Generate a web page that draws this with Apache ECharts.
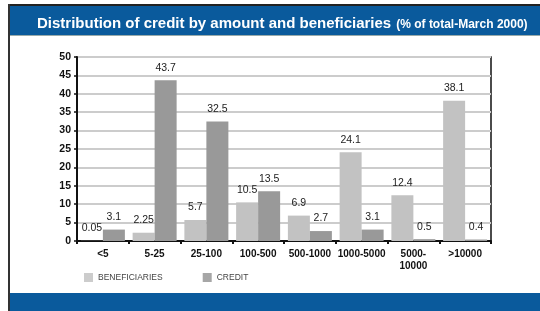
<!DOCTYPE html>
<html>
<head>
<meta charset="utf-8">
<script src="https://cdn.jsdelivr.net/npm/echarts@6/dist/echarts.min.js"></script>
<style>
html, body { margin: 0; padding: 0; background: #fff; }
#chart { width: 540px; height: 311px; }
</style>
</head>
<body>
<div id="chart"></div>
<script>
var categories = ['<5', '5-25', '25-100', '100-500', '500-1000', '1000-5000', '5000-\n10000', '>10000'];
var beneficiaries = [0.05, 2.25, 5.7, 10.5, 6.9, 24.1, 12.4, 38.1];
var credit = [3.1, 43.7, 32.5, 13.5, 2.7, 3.1, 0.5, 0.4];
var yTicks = [0, 50, 5]; // min, max, step

var FONT = "'Liberation Sans Narrow', 'Arial Narrow', 'Liberation Sans', sans-serif";
var BLUE = '#0a5a9c';

var myChart = echarts.init(document.getElementById('chart'));
var option = {
    backgroundColor: '#fff',
    animation: false,
    title: {
        text: '{a|Distribution of credit by amount and beneficiaries} {b|(% of total-March 2000)}',
        left: 32,
        top: 10,
        textStyle: {
            rich: {
                a: { fontFamily: FONT, fontWeight: 'bold', fontSize: 15, color: '#fff' },
                b: { fontFamily: FONT, fontWeight: 'bold', fontSize: 12, color: '#fff', padding: [2, 0, 0, 0] }
            }
        }
    },
    graphic: [
        { type: 'rect', z: -1, shape: { x: 8, y: 4, width: 532, height: 2 }, style: { fill: '#222' } },
        { type: 'rect', z: -1, shape: { x: 8, y: 4, width: 2, height: 307 }, style: { fill: '#333' } },
        { type: 'rect', z: -1, shape: { x: 10, y: 6, width: 530, height: 29 }, style: { fill: BLUE } },
        { type: 'rect', z: -1, shape: { x: 10, y: 35, width: 530, height: 1 }, style: { fill: '#9aa' } },
        { type: 'rect', z: -1, shape: { x: 10, y: 293, width: 530, height: 18 }, style: { fill: BLUE } }
    ],
    legend: {
        left: 79,
        top: 268,
        icon: 'rect',
        itemWidth: 9,
        itemHeight: 9,
        itemGap: 40,
        textStyle: { fontFamily: FONT, fontSize: 8.5, color: '#444' },
        data: [
            { name: 'BENEFICIARIES', itemStyle: { color: '#cccccc' } },
            { name: 'CREDIT', itemStyle: { color: '#a6a6a6' } }
        ]
    },
    grid: {
        left: 77,
        top: 57,
        right: 49,
        bottom: 70,
        show: true,
        borderColor: '#111',
        borderWidth: 1.5
    },
    xAxis: {
        type: 'category',
        data: categories,
        axisLine: { lineStyle: { color: '#111', width: 2 } },
        axisTick: { show: true, length: 3, lineStyle: { color: '#111', width: 2 } },
        axisLabel: {
            interval: 0,
            margin: 7,
            fontFamily: FONT,
            fontWeight: 'bold',
            fontSize: 10,
            lineHeight: 12,
            color: '#111'
        }
    },
    yAxis: {
        type: 'value',
        min: yTicks[0],
        max: yTicks[1],
        interval: yTicks[2],
        axisLine: { show: true, lineStyle: { color: '#111', width: 2 } },
        axisTick: { show: true, length: 3, lineStyle: { color: '#111', width: 1.5 } },
        axisLabel: {
            margin: 6,
            fontFamily: FONT,
            fontWeight: 'bold',
            fontSize: 10.5,
            color: '#111'
        },
        splitLine: { lineStyle: { color: '#cccccc', width: 2 } }
    },
    series: [
        {
            name: 'BENEFICIARIES',
            type: 'bar',
            data: beneficiaries,
            barWidth: 22,
            barGap: '0%',
            itemStyle: { color: '#c2c2c2' },
            label: {
                show: true,
                position: 'top',
                distance: 7,
                fontFamily: FONT,
                fontSize: 10.5,
                color: '#222'
            }
        },
        {
            name: 'CREDIT',
            type: 'bar',
            data: credit,
            barWidth: 22,
            barGap: '0%',
            itemStyle: { color: '#999999' },
            label: {
                show: true,
                position: 'top',
                distance: 7,
                fontFamily: FONT,
                fontSize: 10.5,
                color: '#222'
            }
        }
    ]
};
myChart.setOption(option);
window.addEventListener('resize', function () {
    myChart.resize();
});
</script>
</body>
</html>
